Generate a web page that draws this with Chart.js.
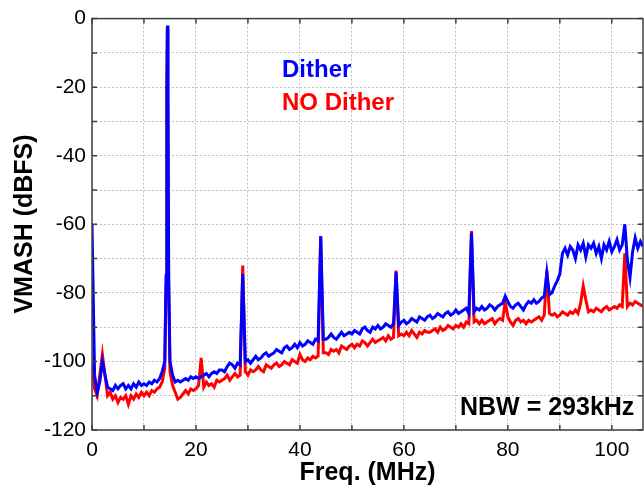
<!DOCTYPE html>
<html>
<head>
<meta charset="utf-8">
<script src="https://cdn.jsdelivr.net/npm/chart.js@4.4.0/dist/chart.umd.min.js"></script>
<style>
html, body { margin: 0; padding: 0; background: #fff; }
#wrap { width: 644px; height: 487px; }
</style>
</head>
<body>
<div id="wrap"><canvas id="spectrum"></canvas></div>
<script>
// frequency bins (MHz)
const freqMHz = [
    0, 0.5, 1, 1.5, 2, 2.5, 3, 3.5, 4, 4.5,
    5, 5.5, 6, 6.5, 7, 7.5, 8, 8.5, 9, 9.5,
    10, 10.5, 11, 11.5, 12, 12.5, 13, 13.5, 14, 14.25, 14.4, 14.5, 14.6, 14.75,
    15, 15.5, 16, 16.5, 17, 17.5, 18, 18.5, 19, 19.5,
    20, 20.5, 21, 21.5, 22, 22.5, 23, 23.5, 24, 24.5,
    25, 25.5, 26, 26.5, 27, 27.5, 28, 28.5, 29, 29.5,
    30, 30.5, 31, 31.5, 32, 32.5, 33, 33.5, 34, 34.5,
    35, 35.5, 36, 36.5, 37, 37.5, 38, 38.5, 39, 39.5,
    40, 40.5, 41, 41.5, 42, 42.5, 43, 43.5, 44, 44.5,
    45, 45.5, 46, 46.5, 47, 47.5, 48, 48.5, 49, 49.5,
    50, 50.5, 51, 51.5, 52, 52.5, 53, 53.5, 54, 54.5,
    55, 55.5, 56, 56.5, 57, 57.5, 58, 58.5, 59, 59.5,
    60, 60.5, 61, 61.5, 62, 62.5, 63, 63.5, 64, 64.5,
    65, 65.5, 66, 66.5, 67, 67.5, 68, 68.5, 69, 69.5,
    70, 70.5, 71, 71.5, 72, 72.5, 73, 73.5, 74, 74.5,
    75, 75.5, 76, 76.5, 77, 77.5, 78, 78.5, 79, 79.5,
    80, 80.5, 81, 81.5, 82, 82.5, 83, 83.5, 84, 84.5,
    85, 85.5, 86, 86.5, 87, 87.5, 88, 88.5, 89, 89.5,
    90, 90.5, 91, 91.5, 92, 92.5, 93, 93.5, 94, 94.5,
    95, 95.5, 96, 96.5, 97, 97.5, 98, 98.5, 99, 99.5,
    100, 100.5, 101, 101.5, 102, 102.5, 103, 103.5, 104, 104.5,
    105, 105.5, 106
];

// "Dither" trace (dBFS)
const ditherDb = [
    -60, -104, -109, -106, -100, -104, -107.5, -108, -108.5, -107,
    -108, -107, -106.5, -108, -107, -108, -106.5, -107.5, -106, -107,
    -106.5, -107, -106, -106.5, -105.5, -106, -105, -103, -100, -75, -20, -2, -20, -75,
    -100, -104, -106, -105.5, -106, -105.5, -105, -105.5, -104.5, -105,
    -104.5, -105, -104.5, -104, -103.5, -104.5, -103.5, -103, -103.5, -102.5,
    -102.5, -103, -101.5, -100.5, -101, -102, -100.5, -101, -74.5, -100,
    -99.5, -100.5, -99.5, -98.5, -99.5, -99, -98, -97.5, -98.5, -98,
    -97.5, -96.5, -97, -97.5, -96, -95.5, -96.5, -96, -95, -96,
    -94.5, -95.5, -95, -94, -94.5, -95, -93.5, -94, -63.5, -93.5,
    -93.5, -93, -92, -93, -93.5, -92.5, -91.5, -92.5, -92, -91.5,
    -92, -91, -91.5, -92, -90.5, -90, -91, -91.5, -90, -90.5,
    -89.5, -90.5, -90, -89, -89.5, -90, -89, -74, -89.5, -88.5,
    -88, -89, -88.5, -87.5, -88, -88.5, -87, -87.5, -88, -87,
    -86.5, -87.5, -87, -86, -86.5, -87, -86, -85.5, -86.5, -86,
    -85, -86, -85.5, -85, -84.5, -86, -62.5, -85.5, -84.5, -85,
    -84, -85, -84.5, -83.5, -84, -85, -84, -83.5, -83, -81,
    -82.5, -84, -84.5, -83.5, -83, -84, -85, -83.5, -82.5, -83,
    -82, -83, -82.5, -81.5, -81, -74, -80.5, -80, -78, -76.5,
    -74.5, -68.5, -67, -69, -66.5, -67.5, -70, -66, -67.5, -65.5,
    -69.5, -66, -67, -65.5, -68.5, -66.5, -70, -66, -67.5, -65,
    -68, -66.5, -64.5, -67.5, -66, -60, -70.5, -75.5, -68, -64,
    -67, -65, -66.5
];

// "NO Dither" trace (dBFS)
const noDitherDb = [
    -101, -108, -110, -104, -98, -104, -110, -109, -111, -110,
    -112, -110.5, -111, -110, -112.5, -110, -111, -109.5, -110.5, -109,
    -110, -109, -110, -108.5, -109, -108, -107.5, -106, -102, -78, -22, -3, -22, -78,
    -103, -107, -109, -111, -110.5, -109.5, -108.5, -109.5, -108, -108.5,
    -108, -107, -99, -107.5, -106, -107, -106.5, -107.5, -105.5, -106,
    -105.5, -105, -104, -105.5, -104.5, -103.5, -104.5, -104, -72, -103,
    -104, -102.5, -103, -102.5, -101.5, -102.5, -103, -101, -101.5, -102,
    -101, -100.5, -101.5, -101, -100, -100.5, -101, -99.5, -100, -100.5,
    -98, -99.5, -100, -99, -99.5, -98.5, -99, -98.5, -63.5, -97.5,
    -97.5, -98, -96.5, -97, -96.5, -97.5, -95.5, -96, -96.5, -95.5,
    -95, -96, -95, -95.5, -94, -94.5, -95.5, -94.5, -93.5, -94.5,
    -94, -93.5, -93, -94, -92.5, -93.5, -93, -73.5, -92.5, -92,
    -92.5, -91.5, -92.5, -91, -92, -93, -91.5, -92, -91, -91.5,
    -91.5, -91, -90.5, -91.5, -90, -91, -90.5, -89.5, -90, -90.5,
    -89.5, -90, -89, -90, -88.5, -89, -62, -88.5, -88, -89,
    -88, -89, -88.5, -88, -87.5, -89, -88, -87.5, -88, -82.5,
    -87, -88.5, -89.5, -88, -87.5, -88.5, -88, -89, -88, -88.5,
    -88, -87.5, -87, -88, -86.5, -73.5, -86, -86.5, -86, -87,
    -86.5, -85.5, -86, -86.5, -85.5, -86, -85, -86, -83, -78,
    -82, -85.5, -85, -85.5, -84.5, -85, -85.5, -84.5, -84, -85,
    -84.5, -84, -84.5, -83.5, -84, -68.5, -84, -83, -83.5, -82.5,
    -83, -83.5, -84
];

const xRange = [0, 106];
const yRange = [-120, 0];

const FONT = '"Liberation Sans", Arial, Helvetica, sans-serif';

function toPoints(ys) {
    return freqMHz.map((f, i) => ({ x: f, y: ys[i] }));
}

// box, inward ticks and the texts
const framePlugin = {
    id: 'frame',
    afterDraw(chart) {
        const ctx = chart.ctx;
        const a = chart.chartArea;
        const xs = chart.scales.x;
        const ys = chart.scales.y;
        ctx.save();
        ctx.strokeStyle = '#404040';
        ctx.lineWidth = 1.5;
        ctx.strokeRect(a.left, a.top, a.right - a.left, a.bottom - a.top);
        ctx.beginPath();
        xs.ticks.forEach(t => {
            const px = xs.getPixelForValue(t.value);
            ctx.moveTo(px, a.bottom); ctx.lineTo(px, a.bottom - 5);
            ctx.moveTo(px, a.top); ctx.lineTo(px, a.top + 5);
        });
        ys.ticks.forEach(t => {
            const py = ys.getPixelForValue(t.value);
            ctx.moveTo(a.left, py); ctx.lineTo(a.left + 5, py);
            ctx.moveTo(a.right, py); ctx.lineTo(a.right - 5, py);
        });
        ctx.stroke();

        ctx.textAlign = 'center';
        ctx.textBaseline = 'alphabetic';
        ctx.fillStyle = '#000';
        ctx.font = 'bold 25px ' + FONT;
        ctx.fillText('Freq. (MHz)', (a.left + a.right) / 2, 480);
        ctx.save();
        ctx.translate(32, 224);
        ctx.rotate(-Math.PI / 2);
        ctx.fillText('VMASH (dBFS)', 0, 0);
        ctx.restore();

        ctx.textAlign = 'left';
        ctx.font = 'bold 24px ' + FONT;
        ctx.fillStyle = '#0000ff';
        ctx.fillText('Dither', 282, 77);
        ctx.fillStyle = '#ff0000';
        ctx.fillText('NO Dither', 282, 110);
        ctx.fillStyle = '#000';
        ctx.font = 'bold 25px ' + FONT;
        ctx.fillText('NBW = 293kHz', 460, 415);
        ctx.restore();
    }
};

new Chart(document.getElementById('spectrum').getContext('2d'), {
    type: 'line',
    data: {
        datasets: [{
            label: 'Dither',
            data: toPoints(ditherDb),
            borderColor: '#0000ff',
            borderWidth: 3,
            pointRadius: 0,
            tension: 0,
            fill: false
        }, {
            label: 'NO Dither',
            data: toPoints(noDitherDb),
            borderColor: '#ff0000',
            borderWidth: 3,
            pointRadius: 0,
            tension: 0,
            fill: false
        }]
    },
    options: {
        responsive: true,
        maintainAspectRatio: false,
        animation: false,
        layout: { padding: { top: 16, right: 1, left: 0, bottom: 0 } },
        plugins: {
            legend: { display: false },
            tooltip: { enabled: false }
        },
        scales: {
            x: {
                type: 'linear',
                min: xRange[0],
                max: xRange[1],
                afterFit(scale) { scale.height = 57; },
                border: { display: false, dash: [2, 2] },
                grid: {
                    color: '#bdbdbd',
                    lineWidth: 1,
                    tickLength: 0
                },
                ticks: {
                    stepSize: 10,
                    includeBounds: false,
                    padding: 8,
                    maxRotation: 0,
                    autoSkip: false,
                    color: '#000',
                    font: { family: FONT, size: 21 },
                    callback: v => (v % 20 === 0 ? String(v) : '')
                }
            },
            y: {
                type: 'linear',
                min: yRange[0],
                max: yRange[1],
                afterFit(scale) { scale.width = 92; },
                border: { display: false, dash: [2, 2] },
                grid: {
                    color: '#bdbdbd',
                    lineWidth: 1,
                    tickLength: 0
                },
                ticks: {
                    stepSize: 10,
                    padding: 6,
                    autoSkip: false,
                    color: '#000',
                    font: { family: FONT, size: 21 },
                    callback: v => (v % 20 === 0 ? String(v) : '')
                }
            }
        }
    },
    plugins: [framePlugin]
});
</script>
</body>
</html>
